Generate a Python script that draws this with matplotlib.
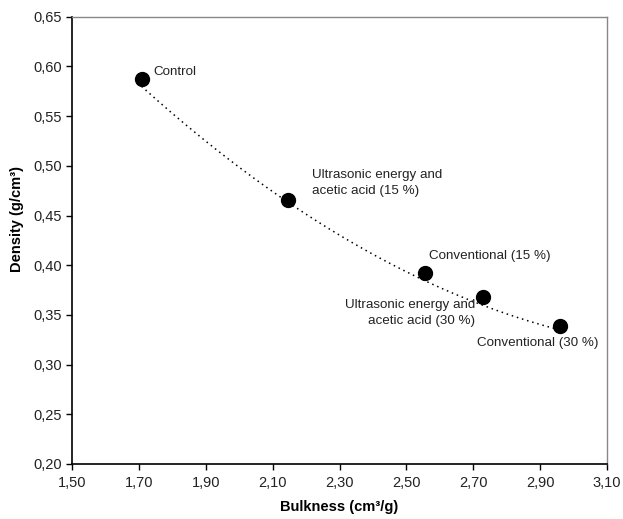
import matplotlib.pyplot as plt
import numpy as np

plt.rcParams['font.family'] = ['Liberation Sans', 'DejaVu Sans']

# Data
bulkness = np.array([1.708, 2.147, 2.556, 2.728, 2.959])
density = np.array([0.587, 0.466, 0.392, 0.368, 0.339])
labels = ['Control',
          'Ultrasonic energy and\nacetic acid (15 %)',
          'Conventional (15 %)',
          'Ultrasonic energy and\nacetic acid (30 %)',
          'Conventional (30 %)']
xticks = [1.50, 1.70, 1.90, 2.10, 2.30, 2.50, 2.70, 2.90, 3.10]
yticks = [0.20, 0.25, 0.30, 0.35, 0.40, 0.45, 0.50, 0.55, 0.60, 0.65]

fig = plt.figure(figsize=(6.23, 5.19), dpi=100)
ax = fig.add_axes([0.1156, 0.106, 0.8587, 0.8618])

# 2nd order trend line (dotted), drawn slightly under the markers as in source
coef = np.polyfit(bulkness, density, 2)
xs = np.linspace(bulkness.min(), bulkness.max(), 200)
trend_shift = -0.006
ax.plot(xs, np.polyval(coef, xs) + trend_shift, color='black',
        linestyle=(0, (1, 2.5)), linewidth=1.1, zorder=2)

ax.plot(bulkness, density, 'o', color='black', markersize=10, zorder=3)

# label placement: (offset in pixels, horizontal align, multialign)
placement = [((12, 7), 'left', 'left'),
             ((24, 17), 'left', 'left'),
             ((4, 17), 'left', 'left'),
             ((-7, -16), 'right', 'right'),
             ((-22, -17), 'center', 'left')]
for x, y, txt, (off, ha, ma) in zip(bulkness, density, labels, placement):
    ax.annotate(txt, (x, y), xytext=off, textcoords='offset pixels',
                ha=ha, va='center', multialignment=ma, fontsize=9.6,
                color='#222222', linespacing=1.45)

ax.set_xlim(1.50, 3.10)
ax.set_ylim(0.20, 0.65)
ax.set_xticks(xticks)
ax.set_yticks(yticks)
ax.set_xticklabels([f'{v:.2f}'.replace('.', ',') for v in xticks])
ax.set_yticklabels([f'{v:.2f}'.replace('.', ',') for v in yticks])
ax.tick_params(direction='out', length=4, width=1, labelsize=10.5,
               colors='black', labelcolor='#222222')
ax.tick_params(axis='x', pad=5)
ax.tick_params(axis='y', pad=3.5)

for side in ['top', 'right']:
    ax.spines[side].set_color('#888888')
    ax.spines[side].set_linewidth(1.0)
for side in ['left', 'bottom']:
    ax.spines[side].set_color('black')
    ax.spines[side].set_linewidth(1.2)

ax.set_xlabel('Bulkness (cm\u00b3/g)', fontsize=10.5, fontweight='bold')
ax.set_ylabel('Density (g/cm\u00b3)', fontsize=10.5, fontweight='bold')
ax.xaxis.set_label_coords(0.5, -0.08)
ax.yaxis.set_label_coords(-0.09, 0.548)

fig.savefig('out.png', dpi=100)
